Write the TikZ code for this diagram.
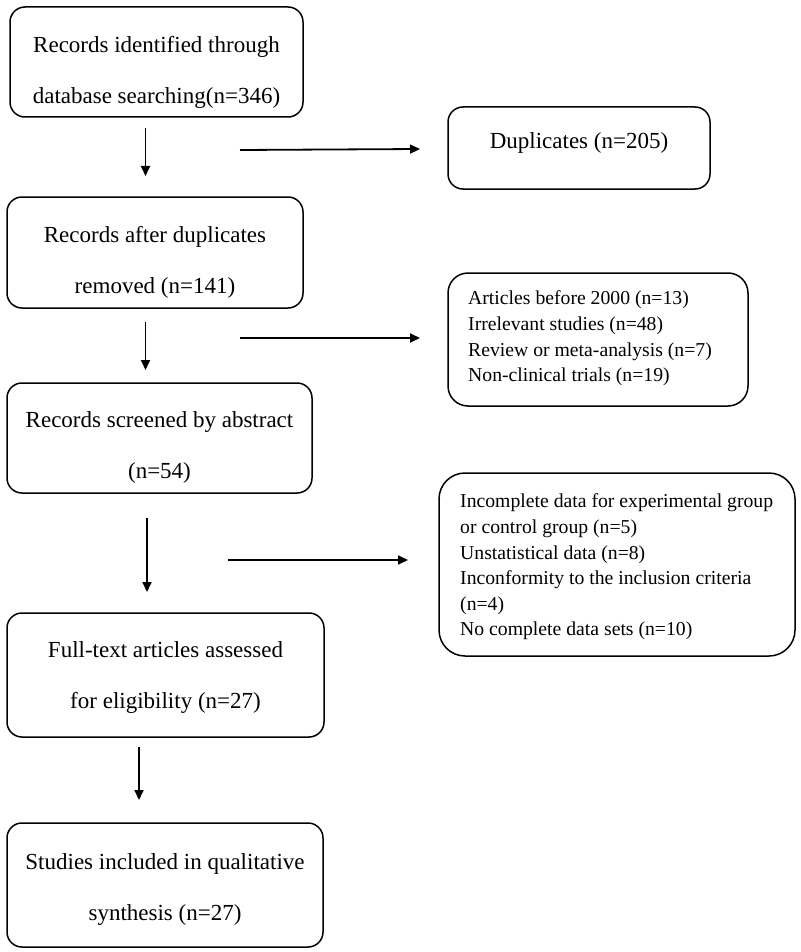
\documentclass[tikz,border=0pt]{standalone}
\usepackage{fontspec}
\setmainfont{Liberation Serif}
\usetikzlibrary{arrows.meta}
\begin{document}
\begin{tikzpicture}[x=1pt,y=-1pt,
  box/.style={draw, line width=1.5pt, rounded corners=15pt, inner sep=0pt},
  big/.style={align=center, font=\fontsize{23}{51}\selectfont, inner sep=0pt},
  small/.style={align=left, anchor=west, font=\fontsize{19.7}{25.6}\selectfont, inner sep=0pt},
  arr/.style={line width=1.8pt, -{Triangle[length=10pt,width=9pt]}}]
\useasboundingbox (0,0) rectangle (800,952);
% boxes
\node[box, minimum width=293pt, minimum height=110pt] (b1) at (156.5,62) {};
\node[box, minimum width=262pt, minimum height=82pt] (dup) at (579,148) {};
\node[box, minimum width=296pt, minimum height=111pt] (b2) at (155,252.5) {};
\node[box, rounded corners=20pt, minimum width=300pt, minimum height=133pt] (ex1) at (598,339.5) {};
\node[box, minimum width=305pt, minimum height=110pt] (b3) at (159.5,438) {};
\node[box, rounded corners=26pt, minimum width=356pt, minimum height=183pt] (ex2) at (617,564.5) {};
\node[box, minimum width=317pt, minimum height=124pt] (b4) at (165.5,675) {};
\node[box, minimum width=316pt, minimum height=124pt] (b5) at (165,885) {};
% texts
\node[big] (t1) at (156.5,72) {Records identified through\\database searching(n=346)};
\node[big] (tdup) at (579,143) {Duplicates (n=205)};
\node[big] (t2) at (155,262) {Records after duplicates\\removed (n=141)};
\node[small] (tex1) at (468,338.5) {Articles before 2000 (n=13)\\Irrelevant studies (n=48)\\Review or meta-analysis (n=7)\\Non-clinical trials (n=19)};
\node[big] (t3) at (159.5,447.5) {Records screened by abstract\\(n=54)};
\node[small] (tex2) at (460,567) {Incomplete data for experimental group\\or control group (n=5)\\Unstatistical data (n=8)\\Inconformity to the inclusion criteria\\(n=4)\\No complete data sets (n=10)};
\node[big] (t4) at (165.5,677.5) {Full-text articles assessed\\for eligibility (n=27)};
\node[big] (t5) at (165,889) {Studies included in qualitative\\synthesis (n=27)};
% connectors
\coordinate (v1s) at (145.5,128); \coordinate (v1e) at (145.5,176);
\coordinate (h1s) at (240,150); \coordinate (h1e) at (420,149);
\coordinate (v2s) at (145.5,322); \coordinate (v2e) at (145.5,370);
\coordinate (h2s) at (240,338); \coordinate (h2e) at (420,338);
\coordinate (v3s) at (147,518); \coordinate (v3e) at (147,592);
\coordinate (h3s) at (228,560); \coordinate (h3e) at (408,560);
\coordinate (v4s) at (139,747); \coordinate (v4e) at (139,800);
\draw[arr] (v1s) -- (v1e);
\draw[arr] (h1s) -- (h1e);
\draw[arr] (v2s) -- (v2e);
\draw[arr] (h2s) -- (h2e);
\draw[arr] (v3s) -- (v3e);
\draw[arr] (h3s) -- (h3e);
\draw[arr] (v4s) -- (v4e);
\end{tikzpicture}
\end{document}
